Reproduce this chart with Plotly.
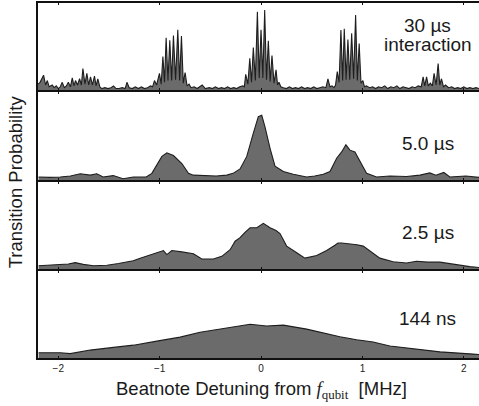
import plotly.graph_objects as go
from plotly.subplots import make_subplots

# ---- data ----
x_30us = [-2.20, -2.18, -2.145, -2.125, -2.108, -2.09, -2.06, -2.04, -2.02, -2.00, -1.98, -1.961, -1.94, -1.92,
          -1.901, -1.88, -1.862, -1.845, -1.830, -1.81, -1.790, -1.772, -1.757, -1.737, -1.718, -1.70, -1.682,
          -1.663, -1.643, -1.627, -1.610, -1.59, -1.57, -1.54, -1.51, -1.48, -1.455, -1.43, -1.40, -1.37, -1.34,
          -1.323, -1.30, -1.27, -1.24, -1.21, -1.18, -1.15, -1.12, -1.09, -1.07, -1.051, -1.03, -1.002, -0.985,
          -0.968, -0.952, -0.936, -0.918, -0.900, -0.882, -0.864, -0.843, -0.821, -0.803, -0.785, -0.767, -0.749,
          -0.73, -0.71, -0.69, -0.66, -0.63, -0.60, -0.58, -0.55, -0.51, -0.48, -0.45, -0.42, -0.39, -0.36, -0.33,
          -0.30, -0.27, -0.24, -0.21, -0.18, -0.165, -0.151, -0.13, -0.111, -0.094, -0.076, -0.056, -0.036, -0.018,
          0.000, 0.018, 0.036, 0.054, 0.072, 0.090, 0.108, 0.128, 0.148, 0.163, 0.177, 0.195, 0.22, 0.25, 0.28,
          0.31, 0.34, 0.37, 0.40, 0.43, 0.46, 0.49, 0.52, 0.55, 0.58, 0.61, 0.64, 0.66, 0.68, 0.70, 0.72, 0.735,
          0.752, 0.770, 0.788, 0.805, 0.821, 0.839, 0.857, 0.875, 0.894, 0.913, 0.933, 0.950, 0.968, 0.986, 1.005,
          1.02, 1.04, 1.07, 1.10, 1.13, 1.16, 1.19, 1.22, 1.25, 1.28, 1.31, 1.34, 1.37, 1.40, 1.43, 1.46, 1.49,
          1.52, 1.55, 1.58, 1.599, 1.615, 1.633, 1.65, 1.67, 1.69, 1.707, 1.727, 1.747, 1.763, 1.780, 1.80, 1.82,
          1.85, 1.88, 1.91, 1.94, 1.97, 2.00, 2.03, 2.06, 2.09, 2.12, 2.15]
p_30us = [0.08, 0.10, 0.18, 0.07, 0.12, 0.05, 0.07, 0.04, 0.06, 0.03, 0.05, 0.10, 0.04, 0.06,
          0.10, 0.05, 0.15, 0.06, 0.12, 0.07, 0.14, 0.07, 0.255, 0.08, 0.20, 0.07, 0.16,
          0.07, 0.17, 0.06, 0.14, 0.05, 0.03, 0.04, 0.03, 0.04, 0.06, 0.03, 0.03, 0.04, 0.03,
          0.10, 0.04, 0.03, 0.05, 0.03, 0.05, 0.03, 0.04, 0.06, 0.05, 0.12, 0.07, 0.20, 0.08,
          0.39, 0.10, 0.60, 0.12, 0.57, 0.12, 0.625, 0.13, 0.69, 0.12, 0.62, 0.09, 0.21,
          0.06, 0.08, 0.04, 0.05, 0.03, 0.05, 0.07, 0.03, 0.04, 0.03, 0.05, 0.03, 0.04, 0.03, 0.05,
          0.03, 0.04, 0.03, 0.05, 0.06, 0.05, 0.19, 0.08, 0.37, 0.10, 0.49, 0.12, 0.89, 0.15,
          0.69, 0.15, 0.91, 0.13, 0.565, 0.11, 0.40, 0.09, 0.24, 0.07, 0.10, 0.05, 0.04, 0.03, 0.05,
          0.03, 0.04, 0.03, 0.05, 0.03, 0.04, 0.03, 0.05, 0.03, 0.04, 0.05, 0.04, 0.14, 0.05, 0.06, 0.04, 0.07,
          0.22, 0.10, 0.685, 0.12, 0.70, 0.13, 0.58, 0.13, 0.65, 0.14, 0.855, 0.12, 0.535, 0.09, 0.12,
          0.05, 0.06, 0.04, 0.05, 0.03, 0.05, 0.04, 0.06, 0.03, 0.05, 0.04, 0.06, 0.03, 0.05, 0.04, 0.03, 0.05,
          0.04, 0.06, 0.05, 0.16, 0.06, 0.16, 0.06, 0.09, 0.06, 0.20, 0.07, 0.31, 0.07, 0.14, 0.05, 0.07,
          0.04, 0.05, 0.03, 0.04, 0.03, 0.05, 0.03, 0.04, 0.03, 0.04, 0.03]

x_5us = [-2.194, -2.08, -1.98, -1.88, -1.783, -1.685, -1.62, -1.557, -1.458, -1.36, -1.26, -1.133, -1.077,
         -1.028, -0.978, -0.929, -0.864, -0.781, -0.716, -0.667, -0.542, -0.443, -0.338, -0.276, -0.207,
         -0.141, -0.076, -0.027, 0.007, 0.039, 0.089, 0.138, 0.22, 0.318, 0.45, 0.53, 0.614, 0.68, 0.746,
         0.795, 0.837, 0.877, 0.926, 0.975, 1.041, 1.14, 1.271, 1.435, 1.567, 1.665, 1.724, 1.803, 1.862,
         2.02, 2.15]
p_5us = [0.04, 0.035, 0.04, 0.05, 0.075, 0.06, 0.075, 0.04, 0.055, 0.02, 0.04, 0.04, 0.08,
         0.18, 0.27, 0.31, 0.28, 0.19, 0.08, 0.06, 0.05, 0.05, 0.06, 0.08, 0.13,
         0.27, 0.53, 0.715, 0.73, 0.60, 0.36, 0.16, 0.10, 0.07, 0.04, 0.05, 0.07, 0.10, 0.25,
         0.32, 0.40, 0.34, 0.32, 0.21, 0.08, 0.04, 0.05, 0.045, 0.06, 0.085, 0.06, 0.09, 0.04,
         0.05, 0.035]

x_2p5us = [-2.194, -2.079, -1.98, -1.90, -1.833, -1.754, -1.652, -1.52, -1.406, -1.323, -1.261, -1.192,
           -1.094, -1.025, -0.963, -0.929, -0.88, -0.781, -0.667, -0.584, -0.47, -0.387, -0.305, -0.256,
           -0.207, -0.158, -0.108, -0.042, 0.023, 0.089, 0.148, 0.187, 0.253, 0.352, 0.433, 0.549, 0.647,
           0.729, 0.759, 0.795, 0.877, 0.946, 1.008, 1.074, 1.172, 1.303, 1.435, 1.534, 1.645, 1.764,
           1.895, 2.059, 2.15]
p_2p5us = [0.045, 0.05, 0.055, 0.065, 0.08, 0.06, 0.045, 0.05, 0.07, 0.09, 0.10, 0.13,
           0.17, 0.19, 0.215, 0.17, 0.215, 0.20, 0.18, 0.12, 0.12, 0.15, 0.225, 0.32,
           0.36, 0.42, 0.47, 0.47, 0.52, 0.47, 0.44, 0.405, 0.265, 0.19, 0.13, 0.16, 0.215,
           0.275, 0.30, 0.30, 0.29, 0.28, 0.265, 0.21, 0.13, 0.09, 0.075, 0.095, 0.085, 0.085,
           0.06, 0.035, 0.025]

x_144ns = [-2.194, -1.98, -1.882, -1.685, -1.455, -1.258, -1.028, -0.798, -0.601, -0.404, -0.207,
           -0.108, 0.056, 0.22, 0.45, 0.614, 0.778, 0.943, 1.106, 1.271, 1.50, 1.764, 2.092, 2.15]
p_144ns = [0.07, 0.07, 0.06, 0.10, 0.13, 0.155, 0.20, 0.245, 0.30, 0.335, 0.37,
           0.39, 0.37, 0.38, 0.335, 0.29, 0.25, 0.215, 0.19, 0.145, 0.115, 0.08, 0.055, 0.05]

panel_labels = [["30 µs", "interaction"], ["5.0 µs"], ["2.5 µs"], ["144 ns"]]
x_ticks = [-2, -1, 0, 1, 2]

series = [(x_30us, p_30us), (x_5us, p_5us), (x_2p5us, p_2p5us), (x_144ns, p_144ns)]

fig = make_subplots(rows=4, cols=1, shared_xaxes=True, vertical_spacing=0)

for i, (xs, ys) in enumerate(series):
    fig.add_trace(go.Scatter(x=xs, y=ys, mode="lines", fill="tozeroy",
                             fillcolor="#6b6b6b",
                             line=dict(color="#1e1e1e", width=1.1),
                             showlegend=False), row=i + 1, col=1)

font_main = "Liberation Sans, Arial, sans-serif"
for i in range(4):
    fig.update_xaxes(range=[-2.2, 2.15], showline=True, linecolor="#111", linewidth=1,
                     mirror="allticks", ticks="inside", ticklen=3, tickcolor="#111",
                     tickvals=x_ticks, showgrid=False, zeroline=False,
                     showticklabels=(i == 3), tickfont=dict(size=10, color="#222", family=font_main),
                     row=i + 1, col=1)
    fig.update_yaxes(range=[0, 1], showline=True, linecolor="#111", linewidth=2,
                     mirror=False, ticks="", showticklabels=False, showgrid=False,
                     zeroline=False, row=i + 1, col=1)

# panel labels
ann = []
label_pos = [[0.74, 0.52], [0.42], [0.42], [0.45]]
axnames = ["", "2", "3", "4"]
for i, labs in enumerate(panel_labels):
    for lab, yv in zip(labs, label_pos[i]):
        ann.append(dict(text=lab, x=1.645, y=yv, xref="x" + axnames[i], yref="y" + axnames[i],
                        showarrow=False, xanchor="center", yanchor="middle",
                        font=dict(size=19, color="#1a1a1a", family=font_main)))

ann.append(dict(text="Transition Probability", textangle=-90, x=-0.052, y=0.495,
                xref="paper", yref="paper", showarrow=False, xanchor="center", yanchor="middle",
                font=dict(size=18.5, color="#1a1a1a", family=font_main)))
ann.append(dict(text="Beatnote Detuning from <span style='font-family:Liberation Serif, Times New Roman, serif'><i>f</i><sub>qubit</sub></span>  [MHz]",
                x=0.506, y=-0.088, xref="paper", yref="paper", showarrow=False,
                xanchor="center", yanchor="middle",
                font=dict(size=18.5, color="#1a1a1a", family=font_main)))

# outer frame lines (top of first panel, bottom of last)
shapes = [dict(type="line", xref="paper", yref="paper", x0=0, x1=1, y0=1, y1=1,
               line=dict(color="#111", width=2)),
          dict(type="line", xref="paper", yref="paper", x0=0, x1=1, y0=0, y1=0,
               line=dict(color="#111", width=2))]

fig.update_layout(width=479, height=406, margin=dict(l=38, r=0, t=2, b=47),
                  plot_bgcolor="white", paper_bgcolor="white", annotations=ann, shapes=shapes)

fig.write_html("out.html", config={"displayModeBar": False},
               post_script="document.body.style.margin='0';document.body.style.overflow='hidden';")
